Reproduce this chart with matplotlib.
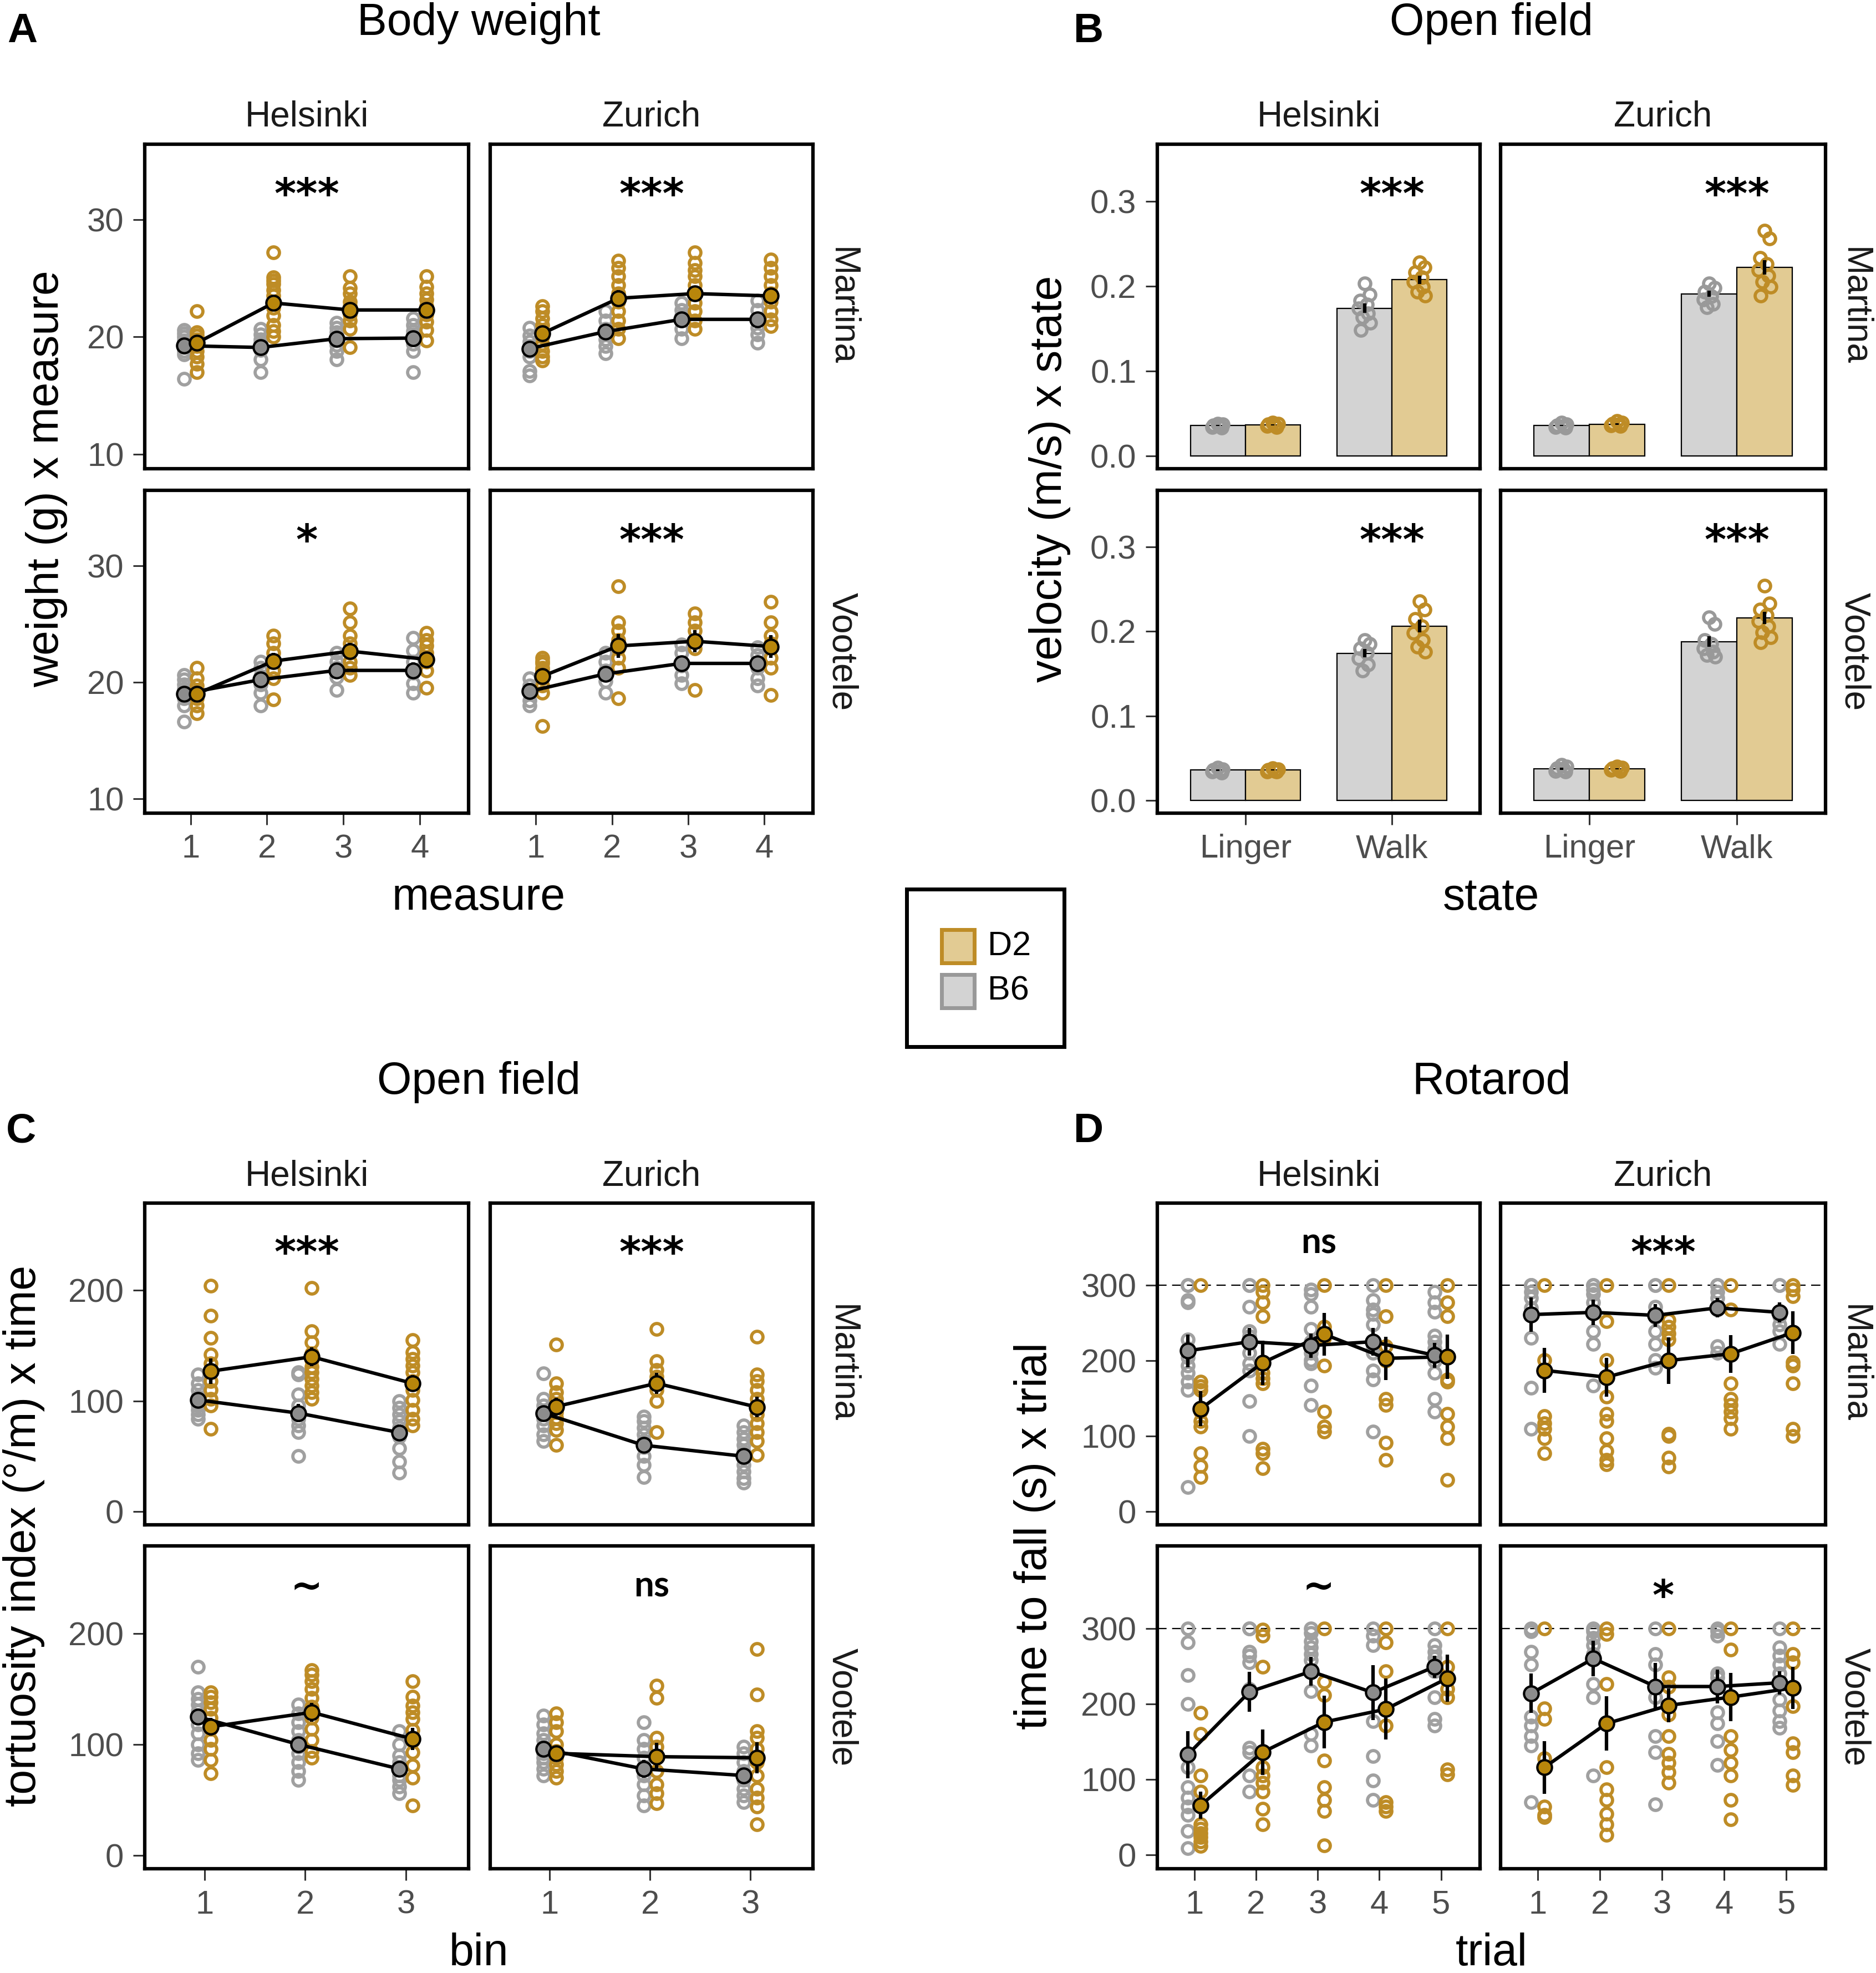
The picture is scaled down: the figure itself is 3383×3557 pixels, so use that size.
import numpy as np
import matplotlib
matplotlib.use('Agg')
import matplotlib.pyplot as plt
from matplotlib.patches import Rectangle
import matplotlib.transforms as mtrans

# ---------------- data ----------------
# A: body weight (g), measures 1-4, facets site x experimenter
measure = [1, 2, 3, 4]
bw_hel_mar_b6 = [[20.6, 20.3, 20.0, 19.7, 19.4, 19.1, 18.8, 18.5, 16.4],
                 [20.7, 20.2, 19.8, 19.5, 19.2, 18.9, 18.1, 17.0],
                 [21.2, 20.8, 20.4, 20.0, 19.7, 19.3, 18.8, 18.1],
                 [21.6, 21.0, 20.5, 20.2, 19.8, 19.4, 18.8, 17.0]]
bw_hel_mar_d2 = [[22.2, 20.4, 20.1, 19.8, 19.5, 19.2, 18.8, 18.3, 17.7, 17.0],
                 [27.2, 25.1, 24.8, 24.5, 24.0, 23.5, 22.5, 21.8, 21.0, 20.5, 20.0],
                 [25.2, 24.2, 23.7, 23.0, 22.6, 21.9, 21.4, 20.7, 19.1],
                 [25.2, 24.3, 23.7, 23.2, 22.6, 21.9, 21.3, 20.6, 19.7]]
bw_hel_mar_b6_mean = [19.25, 19.1, 19.85, 19.9]
bw_hel_mar_d2_mean = [19.5, 22.9, 22.3, 22.3]

bw_zur_mar_b6 = [[20.8, 20.1, 19.6, 19.2, 18.8, 18.3, 17.1, 16.7],
                 [22.2, 21.4, 20.7, 20.3, 19.8, 19.2, 18.6],
                 [22.9, 22.3, 21.8, 21.4, 20.7, 19.9],
                 [23.1, 22.3, 21.5, 20.8, 20.2, 19.5]]
bw_zur_mar_d2 = [[22.6, 22.2, 21.6, 21.0, 20.5, 20.0, 19.4, 18.8, 18.3, 18.0],
                 [26.5, 25.9, 25.2, 24.4, 23.7, 23.0, 22.2, 21.4, 20.7, 19.9],
                 [27.2, 26.3, 25.7, 25.2, 24.4, 23.7, 22.9, 22.2, 21.4, 20.7],
                 [26.6, 25.9, 25.2, 24.4, 23.7, 23.0, 22.2, 21.5, 20.9]]
bw_zur_mar_b6_mean = [19.0, 20.45, 21.5, 21.5]
bw_zur_mar_d2_mean = [20.3, 23.3, 23.7, 23.5]

bw_hel_voo_b6 = [[20.6, 20.2, 19.8, 19.4, 19.0, 18.6, 18.0, 16.6],
                 [21.75, 21.2, 20.5, 19.8, 19.1, 18.0],
                 [22.5, 21.75, 21.2, 20.4, 19.3],
                 [23.8, 22.7, 21.75, 20.8, 19.9, 19.1]]
bw_hel_voo_d2 = [[21.2, 20.3, 19.7, 19.2, 18.6, 18.0, 17.3],
                 [24.0, 23.3, 22.5, 21.8, 21.0, 20.3, 18.5],
                 [26.3, 25.1, 24.0, 23.3, 22.5, 21.75, 21.2, 20.6],
                 [24.2, 23.6, 23.1, 22.5, 21.75, 21.0, 19.5]]
bw_hel_voo_b6_mean = [19.0, 20.2, 21.0, 21.0]
bw_hel_voo_d2_mean = [19.0, 21.8, 22.65, 21.95]

bw_zur_voo_b6 = [[20.3, 19.7, 19.2, 18.4, 18.0],
                 [22.5, 21.75, 21.0, 20.1, 19.1],
                 [23.2, 22.5, 21.4, 20.6, 19.9],
                 [23.0, 22.3, 21.2, 20.3, 19.7]]
bw_zur_voo_d2 = [[22.1, 21.8, 21.6, 21.2, 21.0, 20.6, 20.3, 19.7, 19.1, 16.2],
                 [28.2, 25.1, 24.4, 23.6, 22.9, 22.1, 21.2, 18.6],
                 [25.9, 25.1, 24.4, 23.6, 22.9, 19.3],
                 [26.9, 25.1, 24.0, 23.3, 22.1, 21.2, 18.9]]
bw_zur_voo_b6_mean = [19.2, 20.7, 21.6, 21.6]
bw_zur_voo_d2_mean = [20.5, 23.1, 23.5, 23.05]

# B: velocity (m/s) by state
states = ['Linger', 'Walk']
vel_hel_mar_b6 = [[0.038, 0.037, 0.036, 0.035, 0.034, 0.033],
                  [0.203, 0.190, 0.183, 0.178, 0.174, 0.168, 0.163, 0.157, 0.148]]
vel_hel_mar_d2 = [[0.039, 0.038, 0.037, 0.036, 0.035, 0.034],
                  [0.228, 0.222, 0.216, 0.210, 0.205, 0.199, 0.193, 0.189]]
vel_hel_mar_b6_mean = [0.036, 0.174]
vel_hel_mar_d2_mean = [0.0367, 0.2075]

vel_zur_mar_b6 = [[0.039, 0.037, 0.036, 0.035, 0.034, 0.033],
                  [0.203, 0.198, 0.193, 0.188, 0.184, 0.179, 0.175]]
vel_zur_mar_d2 = [[0.041, 0.039, 0.038, 0.037, 0.036, 0.035],
                  [0.265, 0.256, 0.233, 0.226, 0.219, 0.212, 0.205, 0.199, 0.189]]
vel_zur_mar_b6_mean = [0.036, 0.191]
vel_zur_mar_d2_mean = [0.0374, 0.222]

vel_hel_voo_b6 = [[0.039, 0.037, 0.036, 0.035, 0.034, 0.033],
                  [0.190, 0.185, 0.180, 0.175, 0.168, 0.161, 0.154]]
vel_hel_voo_d2 = [[0.038, 0.037, 0.036, 0.035, 0.034, 0.034],
                  [0.236, 0.226, 0.215, 0.206, 0.198, 0.190, 0.182, 0.176]]
vel_hel_voo_b6_mean = [0.036, 0.1743]
vel_hel_voo_d2_mean = [0.036, 0.2065]

vel_zur_voo_b6 = [[0.042, 0.040, 0.038, 0.037, 0.035, 0.034],
                  [0.217, 0.209, 0.190, 0.185, 0.180, 0.176, 0.172, 0.170]]
vel_zur_voo_d2 = [[0.040, 0.039, 0.038, 0.037, 0.036, 0.035],
                  [0.254, 0.233, 0.226, 0.219, 0.212, 0.206, 0.199, 0.193, 0.187]]
vel_zur_voo_b6_mean = [0.0374, 0.188]
vel_zur_voo_d2_mean = [0.0374, 0.216]

# C: tortuosity index (deg/m) by time bin
bins = [1, 2, 3]
tor_hel_mar_b6 = [[124, 116, 110, 104, 100, 96, 92, 88, 84],
                  [126, 124, 106, 96, 89, 84, 78, 72, 50],
                  [100, 94, 88, 82, 76, 68, 57, 45, 35]]
tor_hel_mar_d2 = [[204, 177, 157, 142, 134, 126, 118, 110, 102, 96, 75],
                  [202, 163, 153, 143, 137, 131, 126, 120, 114, 108, 102],
                  [155, 144, 138, 132, 126, 118, 110, 101, 92, 84, 78]]
tor_hel_mar_b6_mean = [101, 89, 71.5]
tor_hel_mar_d2_mean = [127, 140, 116]

tor_zur_mar_b6 = [[125, 102, 96, 90, 84, 78, 70, 64],
                  [86, 82, 76, 70, 64, 58, 50, 42, 31],
                  [78, 72, 66, 60, 54, 48, 42, 36, 30, 26]]
tor_zur_mar_d2 = [[151, 116, 108, 102, 96, 90, 85, 80, 74, 60],
                  [165, 136, 128, 122, 116, 110, 100, 72],
                  [158, 124, 118, 110, 102, 95, 88, 80, 72, 64, 51]]
tor_zur_mar_b6_mean = [89, 60, 50]
tor_zur_mar_d2_mean = [95, 116, 94.5]

tor_hel_voo_b6 = [[170, 147, 141, 136, 130, 124, 118, 110, 100, 92, 86],
                  [136, 128, 120, 112, 104, 98, 92, 84, 76, 68],
                  [112, 100, 90, 84, 78, 72, 68, 62, 56]]
tor_hel_voo_d2 = [[147, 143, 138, 132, 124, 114, 104, 96, 86, 74],
                  [167, 163, 157, 150, 142, 134, 124, 114, 104, 94, 88],
                  [157, 143, 135, 129, 123, 113, 103, 93, 81, 70, 45]]
tor_hel_voo_b6_mean = [125, 100, 78]
tor_hel_voo_d2_mean = [116, 129, 105]

tor_zur_voo_b6 = [[126, 118, 110, 104, 98, 92, 88, 84, 78, 72],
                  [120, 104, 96, 88, 80, 72, 64, 54, 45],
                  [98, 92, 84, 76, 68, 60, 54, 48]]
tor_zur_voo_d2 = [[128, 120, 112, 100, 94, 88, 82, 76, 70],
                  [153, 142, 106, 98, 88, 76, 64, 56, 47],
                  [186, 145, 112, 106, 96, 84, 72, 60, 52, 44, 28]]
tor_zur_voo_b6_mean = [96, 78, 72]
tor_zur_voo_d2_mean = [92, 89, 88]

# D: rotarod time to fall (s) by trial
trials = [1, 2, 3, 4, 5]
rot_hel_mar_b6 = [[300, 300, 280, 277, 228, 216, 204, 193, 184, 172, 161, 32],
                  [300, 300, 271, 239, 232, 225, 210, 196, 187, 146, 100],
                  [294, 288, 271, 242, 225, 210, 201, 196, 167, 141],
                  [300, 280, 268, 262, 248, 219, 210, 187, 175, 106],
                  [291, 277, 265, 233, 225, 216, 199, 184, 149, 132]]
rot_hel_mar_d2 = [[300, 172, 166, 161, 132, 120, 112, 77, 60, 45],
                  [300, 291, 277, 259, 184, 176, 170, 83, 77, 57],
                  [300, 245, 230, 193, 132, 112, 106],
                  [300, 259, 219, 200, 149, 141, 91, 68],
                  [300, 277, 259, 175, 172, 129, 112, 97, 42]]
rot_hel_mar_b6_mean = [213, 225, 220, 225, 207]
rot_hel_mar_d2_mean = [136, 197, 235, 203, 205]

rot_zur_mar_b6 = [[300, 300, 300, 291, 283, 270, 230, 164, 109],
                  [300, 300, 294, 288, 277, 239, 222, 167],
                  [300, 300, 271, 257, 239, 222, 201, 190],
                  [300, 300, 300, 291, 283, 268, 219, 210],
                  [300, 300, 259, 248, 239, 222]]
rot_zur_mar_d2 = [[300, 201, 126, 117, 109, 97, 77],
                  [300, 252, 201, 152, 129, 120, 97, 80, 68, 62],
                  [300, 254, 245, 236, 228, 103, 100, 71, 59],
                  [300, 268, 170, 149, 141, 132, 123, 109],
                  [300, 294, 285, 198, 193, 170, 109, 100]]
rot_zur_mar_b6_mean = [261, 264, 260, 270, 264]
rot_zur_mar_d2_mean = [187, 178, 200, 209, 237]

rot_hel_voo_b6 = [[300, 281, 238, 200, 116, 90, 76, 64, 53, 32, 9],
                  [300, 300, 269, 264, 255, 220, 142, 136, 105, 84],
                  [300, 294, 283, 275, 266, 258, 217, 160, 145],
                  [300, 290, 278, 177, 131, 99, 73],
                  [300, 278, 269, 261, 252, 243, 209, 180, 171]]
rot_hel_voo_d2 = [[188, 160, 105, 84, 64, 41, 35, 29, 24, 18, 12],
                  [298, 290, 249, 136, 116, 105, 96, 84, 61, 41],
                  [300, 229, 212, 125, 90, 73, 58, 13],
                  [300, 281, 243, 171, 70, 64, 58],
                  [300, 249, 220, 209, 113, 107]]
rot_hel_voo_b6_mean = [133, 216, 243, 215, 249]
rot_hel_voo_d2_mean = [66, 136, 176, 193, 234]

rot_zur_voo_b6 = [[300, 296, 269, 252, 183, 171, 157, 145, 70],
                  [300, 296, 287, 278, 266, 226, 209, 105],
                  [300, 266, 252, 209, 157, 136, 67],
                  [300, 296, 290, 240, 235, 189, 174, 151, 119],
                  [300, 275, 264, 252, 240, 206, 191, 177, 168]]
rot_zur_voo_d2 = [[300, 194, 180, 128, 64, 53, 50],
                  [300, 292, 226, 116, 87, 73, 55, 41, 27],
                  [300, 235, 223, 186, 157, 134, 122, 110, 96],
                  [300, 272, 157, 139, 122, 105, 73, 47],
                  [300, 266, 255, 197, 148, 136, 105, 93]]
rot_zur_voo_b6_mean = [214, 260, 223, 223, 228]
rot_zur_voo_d2_mean = [116, 174, 198, 209, 221]

# ---------------- style ----------------
W, H = 3383, 3557
plt.rcParams['font.family'] = ['Liberation Sans', 'DejaVu Sans']
GOLD = '#be8c26'
GOLD_FILL = '#b8860b'
GREY = '#a0a0a0'
GREY_FILL = '#8c8c8c'
BAR_GREY = '#d3d3d3'
BAR_GOLD = '#e2cb93'
TICK_FS = 43
STRIP_FS = 46
LAB_FS = 58
PT_MS, PT_MEW = 15, 4.2

fig = plt.figure(figsize=(W / 100, H / 100), dpi=100)

def make_ax(x0, x1, y0, y1):
    return fig.add_axes([x0 / W, 1 - y1 / H, (x1 - x0) / W, (y1 - y0) / H])

def style(ax, xlim, ylim, xticks, yticks, bottom, left, xlabels=None, ylabels=None):
    ax.set_xlim(xlim)
    ax.set_ylim(ylim)
    ax.set_xticks(xticks)
    ax.set_yticks(yticks)
    if xlabels is not None:
        ax.set_xticklabels(xlabels)
    if ylabels is not None:
        ax.set_yticklabels(ylabels)
    for s in ax.spines.values():
        s.set_linewidth(4.5)
        s.set_color('black')
    ax.tick_params(direction='out', length=15, width=2.2, color='#333333',
                   labelsize=TICK_FS, labelcolor='#4d4d4d', pad=12)
    ax.tick_params(axis='x', bottom=bottom, labelbottom=bottom)
    ax.tick_params(axis='y', left=left, labelleft=left)

def se(v):
    v = np.asarray(v, float)
    return v.std(ddof=1) / np.sqrt(len(v))

def line_facet(ax, x, b6, d2, b6m, d2m, dodge):
    x = np.asarray(x, float)
    groups = [(b6, b6m, GREY, GREY_FILL, -dodge), (d2, d2m, GOLD, GOLD_FILL, dodge)]
    for pts, mean, col, fill, off in groups:
        for xi, vals in zip(x, pts):
            ax.plot(np.full(len(vals), xi + off), vals, 'o', mfc='none', mec=col,
                    ms=PT_MS, mew=PT_MEW, zorder=2)
    for pts, mean, col, fill, off in groups:
        ax.plot(x + off, mean, '-', color='black', lw=4.5, zorder=3)
        ax.errorbar(x + off, mean, yerr=[se(v) for v in pts], fmt='none',
                    ecolor='black', elinewidth=4.5, capsize=0, zorder=4)
        ax.plot(x + off, mean, 'o', mfc=fill, mec='black', ms=19, mew=3, zorder=5)

JIT = [0.0, 0.035, -0.03, 0.015, -0.04, 0.025, -0.015, 0.04, -0.025, 0.01]

def bar_facet(ax, b6, d2, b6m, d2m):
    x = np.array([1.0, 2.0])
    w = 0.375
    for pts, mean, col, bar, off in [(b6, b6m, '#999999', BAR_GREY, -w / 2),
                                     (d2, d2m, GOLD, BAR_GOLD, w / 2)]:
        ax.bar(x + off, mean, width=w, color=bar, edgecolor='black', lw=1.6, zorder=1)
        for xi, vals in zip(x, pts):
            xs = [xi + off + JIT[i % len(JIT)] for i in range(len(vals))]
            ax.plot(xs, vals, 'o', mfc='none', mec=col, ms=PT_MS, mew=PT_MEW, zorder=3)
        ax.errorbar(x + off, mean, yerr=[se(v) for v in pts], fmt='none',
                    ecolor='black', elinewidth=4.5, capsize=0, zorder=4)

def annotate(ax, text, xdata=None):
    tr = mtrans.blended_transform_factory(ax.transData if xdata is not None else ax.transAxes,
                                          ax.transAxes)
    x = 0.5 if xdata is None else xdata
    if '*' in text:
        ax.text(x, 0.838, text, transform=tr, ha='center', va='center',
                fontsize=54, fontweight='bold', family=['DejaVu Sans'])
    elif text == '~':
        ax.text(x, 0.870, text, transform=tr, ha='center', va='center',
                fontsize=50, fontweight='bold', family=['DejaVu Sans'])
    else:
        ax.text(x, 0.875, text, transform=tr, ha='center', va='center',
                fontsize=46, fontweight='bold', family=['Lato', 'DejaVu Sans'])

# layout (pixel boxes)
COLS_L = [(261, 845), (884, 1466)]
COLS_R = [(2087, 2669), (2706, 3292)]
ROWS_T = [(260, 845), (884, 1466)]
ROWS_B = [(2169, 2749), (2787, 3369)]

def facet_labels(cols, rows, strip_base, title, title_base, xlab, xlab_base, ylab, ylab_x, letter, letter_x, letter_base):
    for (c0, c1), name in zip(cols, ['Helsinki', 'Zurich']):
        fig.text((c0 + c1) / 2 / W, 1 - strip_base / H, name, ha='center', va='baseline',
                 fontsize=STRIP_FS, color='#1a1a1a')
    for (r0, r1), name in zip(rows, ['Martina', 'Vootele']):
        fig.text((cols[1][1] + 52) / W, 1 - (r0 + r1) / 2 / H, name, ha='center', va='center',
                 rotation=270, fontsize=STRIP_FS, color='#1a1a1a')
    xc = (cols[0][0] + cols[1][1]) / 2 / W
    fig.text(xc, 1 - title_base / H, title, ha='center', va='baseline', fontsize=LAB_FS)
    fig.text(xc, 1 - xlab_base / H, xlab, ha='center', va='baseline', fontsize=LAB_FS)
    fig.text(ylab_x / W, 1 - (rows[0][0] + rows[1][1]) / 2 / H, ylab, ha='center', va='center',
             rotation=90, fontsize=LAB_FS)
    fig.text(letter_x / W, 1 - letter_base / H, letter, ha='left', va='baseline',
             fontsize=54, fontweight='bold')

# ---------------- A: body weight ----------------
facets_a = [(0, 0, bw_hel_mar_b6, bw_hel_mar_d2, bw_hel_mar_b6_mean, bw_hel_mar_d2_mean, '***'),
            (0, 1, bw_zur_mar_b6, bw_zur_mar_d2, bw_zur_mar_b6_mean, bw_zur_mar_d2_mean, '***'),
            (1, 0, bw_hel_voo_b6, bw_hel_voo_d2, bw_hel_voo_b6_mean, bw_hel_voo_d2_mean, '*'),
            (1, 1, bw_zur_voo_b6, bw_zur_voo_d2, bw_zur_voo_b6_mean, bw_zur_voo_d2_mean, '***')]
for r, c, b6, d2, b6m, d2m, txt in facets_a:
    ax = make_ax(*COLS_L[c], *ROWS_T[r])
    line_facet(ax, measure, b6, d2, b6m, d2m, 0.086)
    style(ax, (0.40, 4.64), (8.75, 36.45), measure, [10, 20, 30], r == 1, c == 0)
    annotate(ax, txt)
facet_labels(COLS_L, ROWS_T, 228, 'Body weight', 63, 'measure', 1640,
             'weight (g) x measure', 84, 'A', 13, 76)

# ---------------- B: velocity ----------------
facets_b = [(0, 0, vel_hel_mar_b6, vel_hel_mar_d2, vel_hel_mar_b6_mean, vel_hel_mar_d2_mean),
            (0, 1, vel_zur_mar_b6, vel_zur_mar_d2, vel_zur_mar_b6_mean, vel_zur_mar_d2_mean),
            (1, 0, vel_hel_voo_b6, vel_hel_voo_d2, vel_hel_voo_b6_mean, vel_hel_voo_d2_mean),
            (1, 1, vel_zur_voo_b6, vel_zur_voo_d2, vel_zur_voo_b6_mean, vel_zur_voo_d2_mean)]
for r, c, b6, d2, b6m, d2m in facets_b:
    ax = make_ax(*COLS_R[c], *ROWS_T[r])
    bar_facet(ax, b6, d2, b6m, d2m)
    style(ax, (0.4, 2.6), (-0.015, 0.367), [1, 2], [0, 0.1, 0.2, 0.3], r == 1, c == 0,
          xlabels=states, ylabels=['0.0', '0.1', '0.2', '0.3'])
    annotate(ax, '***', xdata=2)
facet_labels(COLS_R, ROWS_T, 228, 'Open field', 63, 'state', 1640,
             'velocity (m/s) x state', 1893, 'B', 1936, 76)

# ---------------- C: tortuosity ----------------
facets_c = [(0, 0, tor_hel_mar_b6, tor_hel_mar_d2, tor_hel_mar_b6_mean, tor_hel_mar_d2_mean, '***'),
            (0, 1, tor_zur_mar_b6, tor_zur_mar_d2, tor_zur_mar_b6_mean, tor_zur_mar_d2_mean, '***'),
            (1, 0, tor_hel_voo_b6, tor_hel_voo_d2, tor_hel_voo_b6_mean, tor_hel_voo_d2_mean, '~'),
            (1, 1, tor_zur_voo_b6, tor_zur_voo_d2, tor_zur_voo_b6_mean, tor_zur_voo_d2_mean, 'ns')]
for r, c, b6, d2, b6m, d2m, txt in facets_c:
    ax = make_ax(*COLS_L[c], *ROWS_B[r])
    line_facet(ax, bins, b6, d2, b6m, d2m, 0.065)
    style(ax, (0.407, 3.623), (-12, 279), bins, [0, 100, 200], r == 1, c == 0)
    annotate(ax, txt)
facet_labels(COLS_L, ROWS_B, 2137, 'Open field', 1972, 'bin', 3543,
             'tortuosity index (°/m) x time', 43, 'C', 11, 2059)

# ---------------- D: rotarod ----------------
facets_d = [(0, 0, rot_hel_mar_b6, rot_hel_mar_d2, rot_hel_mar_b6_mean, rot_hel_mar_d2_mean, 'ns'),
            (0, 1, rot_zur_mar_b6, rot_zur_mar_d2, rot_zur_mar_b6_mean, rot_zur_mar_d2_mean, '***'),
            (1, 0, rot_hel_voo_b6, rot_hel_voo_d2, rot_hel_voo_b6_mean, rot_hel_voo_d2_mean, '~'),
            (1, 1, rot_zur_voo_b6, rot_zur_voo_d2, rot_zur_voo_b6_mean, rot_zur_voo_d2_mean, '*')]
for r, c, b6, d2, b6m, d2m, txt in facets_d:
    ax = make_ax(*COLS_R[c], *ROWS_B[r])
    ax.axhline(300, color='black', lw=1.6, ls=(0, (7.5, 4.5)), zorder=1)
    line_facet(ax, trials, b6, d2, b6m, d2m, 0.105)
    style(ax, (0.40, 5.634), (-18, 409), trials, [0, 100, 200, 300], r == 1, c == 0)
    annotate(ax, txt)
facet_labels(COLS_R, ROWS_B, 2137, 'Rotarod', 1972, 'trial', 3543,
             'time to fall (s) x trial', 1866, 'D', 1936, 2059)

# ---------------- legend ----------------
fig.add_artist(Rectangle((1635 / W, 1 - 1887 / H), 284 / W, 284 / H, transform=fig.transFigure,
                         fill=False, lw=5, ec='black'))
for (y0, y1), face, edge, lab in [((1673, 1739), BAR_GOLD, GOLD, 'D2'),
                                  ((1754, 1820), BAR_GREY, '#999999', 'B6')]:
    fig.add_artist(Rectangle((1698 / W, 1 - (y1 - 3) / H), 59 / W, (y1 - y0 - 6) / H,
                             transform=fig.transFigure, fc=face, ec=edge, lw=5))
    fig.text(1781 / W, 1 - (y0 + y1) / 2 / H, lab, ha='left', va='center', fontsize=44)

fig.savefig('out.png', dpi=100)
